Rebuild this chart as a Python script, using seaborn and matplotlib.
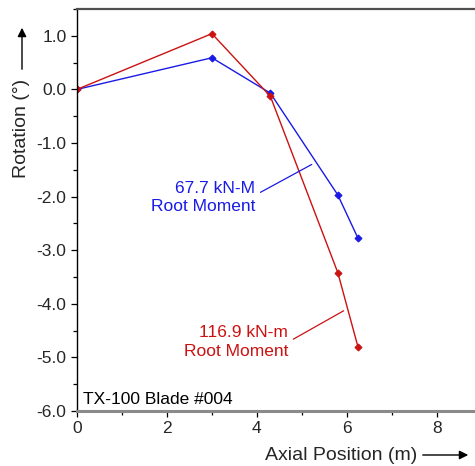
import numpy as np
import pandas as pd
import matplotlib
matplotlib.use("Agg")
import matplotlib.pyplot as plt
from matplotlib.ticker import MultipleLocator, FuncFormatter
import seaborn as sns

# ---- data ----
positions = [0.0, 3.0, 4.3, 5.8, 6.25]
rot_67 = [0.0, 0.59, -0.07, -1.97, -2.78]
rot_117 = [0.0, 1.04, -0.13, -3.42, -4.81]
label_67 = "67.7 kN-M\nRoot Moment"
label_117 = "116.9 kN-m\nRoot Moment"
title_text = "TX-100 Blade #004"
xlabel = "Axial Position (m)"
ylabel = "Rotation (°)"

df = pd.DataFrame({
    "pos": positions * 2,
    "rot": rot_67 + rot_117,
    "series": ["67.7"] * len(positions) + ["116.9"] * len(positions),
})

sns.set_style("ticks")
plt.rcParams["font.family"] = ["Liberation Sans", "DejaVu Sans"]
plt.rcParams["axes.unicode_minus"] = False

BLUE = "#1a1ae6"
RED = "#cc1111"

fig = plt.figure(figsize=(4.75, 4.66), dpi=100)
ax = fig.add_axes([77 / 475, 1 - 411 / 466, 1 - 77 / 475, (411 - 9) / 466])

sns.lineplot(data=df, x="pos", y="rot", hue="series", sort=False,
             palette={"67.7": BLUE, "116.9": RED}, hue_order=["67.7", "116.9"],
             marker="D", markersize=3.5, markeredgewidth=0.8, linewidth=1.0,
             legend=False, ax=ax)
for line, c in zip(ax.get_lines(), [BLUE, RED]):
    line.set_markeredgecolor(c)
    line.set_markerfacecolor(c)

ax.set_xlim(0, 8.85)
ax.set_ylim(-6.0, 1.5)
ax.set_xlabel("")
ax.set_ylabel("")

ax.xaxis.set_major_locator(MultipleLocator(2))
ax.xaxis.set_minor_locator(MultipleLocator(1))
ax.yaxis.set_major_locator(MultipleLocator(1))
ax.yaxis.set_minor_locator(MultipleLocator(0.5))
ax.yaxis.set_major_formatter(FuncFormatter(lambda v, p: f"{v:.1f}"))
ax.xaxis.set_major_formatter(FuncFormatter(lambda v, p: f"{v:.0f}"))

ax.tick_params(axis="both", which="major", direction="out", length=4.5, width=0.9,
               labelsize=12.5, color="black", pad=3)
ax.tick_params(axis="both", which="minor", direction="out", length=3, width=0.9,
               color="black")

ax.spines["right"].set_visible(False)
ax.spines["left"].set_color("black")
ax.spines["left"].set_linewidth(1.0)
ax.spines["top"].set_color("#505050")
ax.spines["top"].set_linewidth(1.6)
ax.spines["bottom"].set_color("#8a8a8a")
ax.spines["bottom"].set_linewidth(2.2)

# annotations
ax.annotate("", xy=(5.22, -1.40), xytext=(4.08, -1.92),
            arrowprops=dict(arrowstyle="-", color=BLUE, lw=0.9, shrinkA=0, shrinkB=0))
ax.text(3.96, -2.02, label_67, color=BLUE, ha="right", va="center",
        fontsize=12.5, linespacing=1.3)
ax.annotate("", xy=(5.93, -4.13), xytext=(4.81, -4.66),
            arrowprops=dict(arrowstyle="-", color=RED, lw=0.9, shrinkA=0, shrinkB=0))
ax.text(4.69, -4.71, label_117, color=RED, ha="right", va="center",
        fontsize=12.5, linespacing=1.3)
ax.text(0.13, -5.78, title_text, color="black", ha="left", va="center",
        fontsize=12.5)

# axis labels with arrows
W, H = 475, 466
fig.text(22 / W, 1 - 128 / H, ylabel, rotation=90, ha="center", va="center",
         fontsize=14)
fig.add_artist(matplotlib.patches.FancyArrowPatch(
    (22 / W, 1 - 72 / H), (22 / W, 1 - 25 / H), transform=fig.transFigure,
    arrowstyle="-|>", mutation_scale=13, color="black", lw=1.0))
fig.text(341 / W, 1 - 455 / H, xlabel, ha="center", va="center", fontsize=14)
fig.add_artist(matplotlib.patches.FancyArrowPatch(
    (420 / W, 1 - 455 / H), (471 / W, 1 - 455 / H), transform=fig.transFigure,
    arrowstyle="-|>", mutation_scale=13, color="black", lw=1.0))

fig.savefig("out.png", dpi=100)
